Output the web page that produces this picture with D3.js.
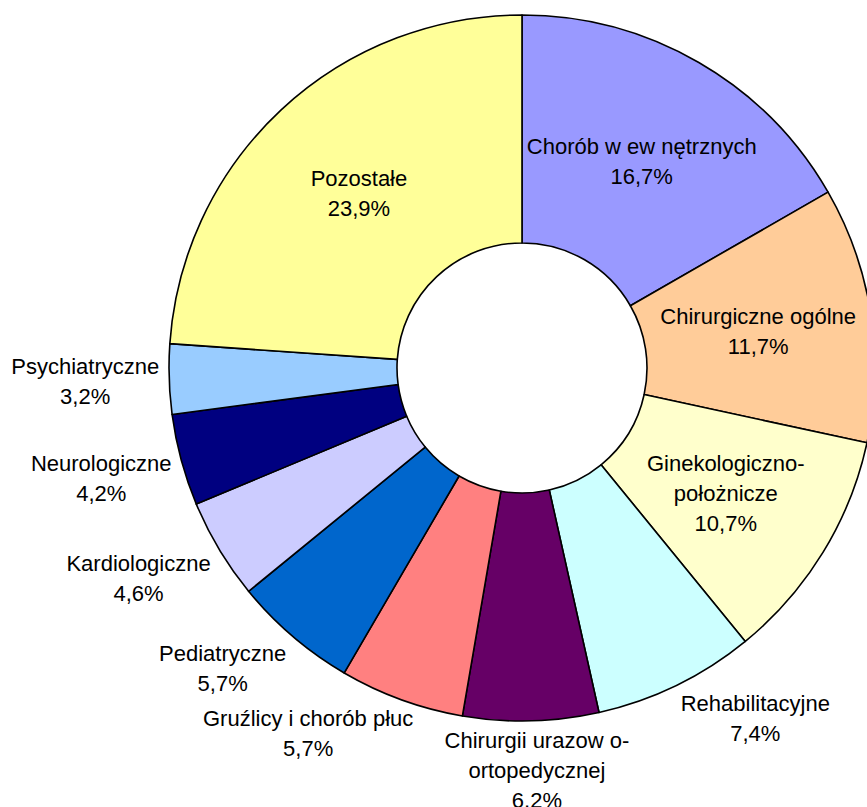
<!DOCTYPE html>
<html>
<head>
<meta charset="utf-8">
<script src="https://cdn.jsdelivr.net/npm/d3@7"></script>
<style>
  body { margin: 0; background: #fff; }
  svg text { font-family: "Liberation Sans", Arial, sans-serif; font-size: 22px; fill: #000; }
</style>
</head>
<body>
<svg id="chart" width="867" height="807"></svg>
<script>
"use strict";

// oddziały szpitalne, kolejno od godziny 12 zgodnie z ruchem wskazówek
var categories = [
    ["Chorób w ew nętrznych"],
    ["Chirurgiczne ogólne"],
    ["Ginekologiczno-", "położnicze"],
    ["Rehabilitacyjne"],
    ["Chirurgii urazow o-", "ortopedycznej"],
    ["Gruźlicy i chorób płuc"],
    ["Pediatryczne"],
    ["Kardiologiczne"],
    ["Neurologiczne"],
    ["Psychiatryczne"],
    ["Pozostałe"]
];
var values = [16.7, 11.7, 10.7, 7.4, 6.2, 5.7, 5.7, 4.6, 4.2, 3.2, 23.9];
var valueLabels = ["16,7%", "11,7%", "10,7%", "7,4%", "6,2%", "5,7%", "5,7%", "4,6%", "4,2%", "3,2%", "23,9%"];
var colors = ["#9999FF", "#FFCC99", "#FFFFCC", "#CCFFFF", "#660066", "#FF8080",
              "#0066CC", "#CCCCFF", "#000080", "#99CCFF", "#FFFF99"];
// etykiety na zewnątrz dla mniejszych wycinków
var outside = [false, false, false, true, true, true, true, true, true, true, false];

var cx = 522, cy = 368;
var outerR = 353, innerR = 125;
var lineH = 30;

var svg = d3.select("#chart");
var g = svg.append("g").attr("transform", "translate(" + cx + "," + cy + ")");

var data = values.map(function (v, i) {
    return { value: v, lines: categories[i].concat([valueLabels[i]]), color: colors[i], outside: outside[i] };
});

var pie = d3.pie().sort(null).value(function (d) { return d.value; });
var arc = d3.arc().innerRadius(innerR).outerRadius(outerR);
var arcs = pie(data);

// wycinki
g.selectAll("path.slice")
    .data(arcs)
    .enter()
    .append("path")
    .attr("class", "slice")
    .attr("d", arc)
    .attr("fill", function (d) { return d.data.color; })
    .attr("stroke", "#000")
    .attr("stroke-width", 1.6)
    .attr("stroke-linejoin", "round");

// etykiety
var labels = g.selectAll("g.label")
    .data(arcs)
    .enter()
    .append("g")
    .attr("class", "label");

labels.each(function (d) {
    var lbl = d3.select(this);
    var n = d.data.lines.length;
    var texts = lbl.selectAll("text")
        .data(d.data.lines)
        .enter()
        .append("text")
        .attr("text-anchor", "middle")
        .attr("dy", "0.35em")
        .attr("y", function (t, i) { return (i - (n - 1) / 2) * lineH; })
        .text(function (t) { return t; });

    var px, py;
    if (!d.data.outside) {
        var c = arc.centroid(d);
        px = c[0]; py = c[1];
    } else {
        // etykieta przyklejona do zewnętrznej krawędzi
        var w = 0;
        texts.each(function () { w = Math.max(w, this.getComputedTextLength()); });
        var h = n * lineH - 12;
        var a = (d.startAngle + d.endAngle) / 2;
        var r = outerR + 10;
        var k = 2.5;
        var sx = Math.max(-1, Math.min(1, Math.sin(a) * k));
        var sy = Math.max(-1, Math.min(1, -Math.cos(a) * k));
        px = r * Math.sin(a) + sx * w / 2;
        py = -r * Math.cos(a) + sy * h / 2;
    }
    lbl.attr("transform", "translate(" + px + "," + py + ")");
});
</script>
</body>
</html>
